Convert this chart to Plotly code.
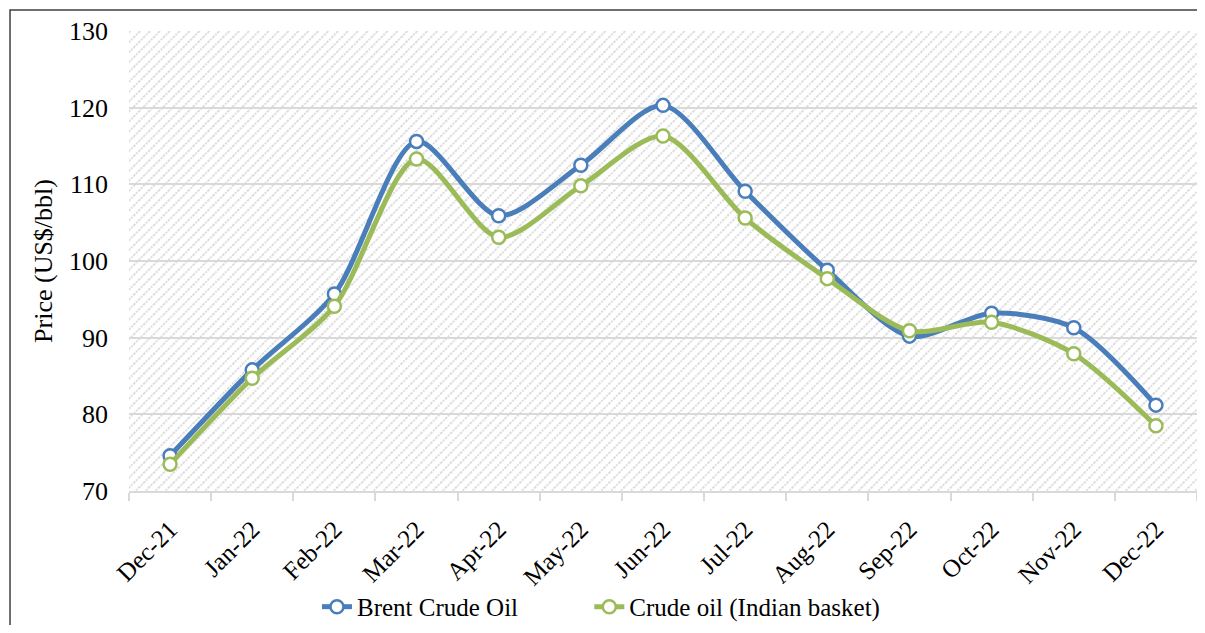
import base64
import plotly.graph_objects as go

months = ['Dec-21', 'Jan-22', 'Feb-22', 'Mar-22', 'Apr-22', 'May-22', 'Jun-22',
          'Jul-22', 'Aug-22', 'Sep-22', 'Oct-22', 'Nov-22', 'Dec-22']
brent = [74.6, 85.8, 95.7, 115.6, 105.9, 112.5, 120.3, 109.1, 98.8, 90.2, 93.2, 91.3, 81.2]
indian_basket = [73.5, 84.7, 94.1, 113.3, 103.1, 109.8, 116.3, 105.6, 97.7, 90.9, 92.0, 87.9, 78.5]

FONT = 'Times New Roman, Liberation Serif, serif'

# hatched plot background (excel style "wide downward diagonal")
svg = ('<svg xmlns="http://www.w3.org/2000/svg" width="1068" height="460">'
       '<defs><pattern id="p" width="7" height="7" patternUnits="userSpaceOnUse" '
       'patternTransform="rotate(45)"><rect width="7" height="7" fill="white"/>'
       '<line x1="0" y1="0" x2="0" y2="7" stroke="#dadada" stroke-width="3.5" stroke-dasharray="2 1"/></pattern></defs>'
       '<rect width="1068" height="460" fill="url(#p)"/></svg>')
bg = 'data:image/svg+xml;base64,' + base64.b64encode(svg.encode()).decode()

fig = go.Figure()
fig.add_trace(go.Scatter(
    x=months, y=brent, name='Brent Crude Oil', mode='lines+markers', legend='legend',
    line=dict(color='#4a7ebb', width=5, shape='spline', smoothing=0.8),
    marker=dict(symbol='circle', size=13, color='white', line=dict(color='#4a7ebb', width=2.5))))
fig.add_trace(go.Scatter(
    x=months, y=indian_basket, name='Crude oil (Indian basket)', mode='lines+markers', legend='legend2',
    line=dict(color='#9bbb59', width=5, shape='spline', smoothing=0.8),
    marker=dict(symbol='circle', size=13, color='white', line=dict(color='#9bbb59', width=2.5))))

# two legends so the entries can sit apart like the original
leg = dict(orientation='h', xanchor='left', y=-0.252, yanchor='middle', font=dict(size=25))

# page body has an 8px margin, keep the figure inside the window so nothing scrolls
fig.update_layout(
    width=1189, height=617,
    margin=dict(l=121, r=0, t=23, b=134, autoexpand=False),
    paper_bgcolor='white', plot_bgcolor='rgba(0,0,0,0)',
    font=dict(family=FONT, color='black', size=26),
    showlegend=True,
    legend=dict(leg, x=0.176),
    legend2=dict(leg, x=0.431),
    images=[dict(source=bg, xref='paper', yref='paper', x=0, y=1, sizex=1, sizey=1,
                 sizing='stretch', layer='below', xanchor='left', yanchor='top')],
    shapes=[dict(type='rect', xref='paper', yref='paper', x0=-0.1114, x1=1.5, y0=-0.6, y1=1.0457,
                 line=dict(color='#404040', width=1.5), fillcolor='rgba(0,0,0,0)')],
)
fig.update_xaxes(
    type='category', tickson='boundaries', ticks='outside', ticklen=8, tickcolor='#d9d9d9',
    tickwidth=1.5, showline=True, linecolor='#d9d9d9', linewidth=1.5, showgrid=False,
    tickangle=-45, tickfont=dict(size=25), ticklabelstandoff=12, range=[-0.5, 12.5])
fig.update_yaxes(
    range=[70, 130], dtick=10, showgrid=True, gridcolor='#d9d9d9', gridwidth=1.5,
    zeroline=False, showline=False, ticks='', ticklabelstandoff=20, tickfont=dict(size=26),
    title=dict(text='Price (US$/bbl)', font=dict(size=26), standoff=8))

fig.write_html("out.html")
